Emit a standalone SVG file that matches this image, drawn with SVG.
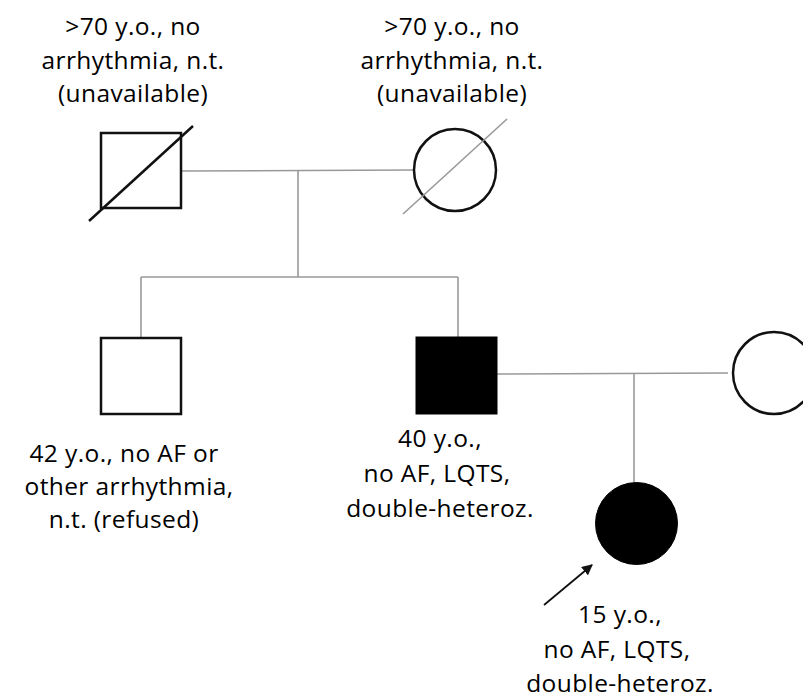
<svg xmlns="http://www.w3.org/2000/svg" width="803" height="698" viewBox="0 0 803 698">
<style>
.sym{fill:#fff;stroke:#111;stroke-width:2.5}
.aff{fill:#000;stroke:#000;stroke-width:1}
.con{fill:none;stroke:#999;stroke-width:1.6}
.lbl{font-family:"Open Sans",Lato,sans-serif;font-size:24.5px;letter-spacing:0.4px;fill:#000;text-anchor:middle}
</style>
<defs>
<marker id="ah" viewBox="0 0 10 10" refX="9" refY="5" markerWidth="6" markerHeight="6" orient="auto">
<path d="M0,0 L10,5 L0,10 z" fill="#111"/>
</marker>
</defs>
<rect width="803" height="698" fill="#fff"/>
<g id="connectors">
<line class="con" x1="181" y1="171" x2="414" y2="170"/>
<line class="con" x1="298" y1="170" x2="298" y2="277"/>
<line class="con" x1="141" y1="277" x2="458" y2="277"/>
<line class="con" x1="141" y1="277" x2="141" y2="338"/>
<line class="con" x1="458" y1="277" x2="458" y2="337"/>
<line class="con" x1="497" y1="374" x2="728" y2="373"/>
<line class="con" x1="634" y1="373" x2="634" y2="482"/>
<line x1="544" y1="605" x2="592" y2="565" stroke="#111" stroke-width="1.8" marker-end="url(#ah)"/>
</g>
<g id="grandfather">
<rect class="sym" x="101" y="133" width="80" height="75"/>
<line x1="89" y1="221" x2="193" y2="126" stroke="#111" stroke-width="2.5"/>
<text class="lbl" x="133" y="35">&gt;70 y.o., no</text>
<text class="lbl" x="133" y="69">arrhythmia, n.t.</text>
<text class="lbl" x="133" y="102">(unavailable)</text>
</g>
<g id="grandmother">
<circle class="sym" cx="455" cy="170" r="41"/>
<line x1="403" y1="214" x2="507" y2="119" stroke="#999" stroke-width="1.6"/>
<text class="lbl" x="452" y="35">&gt;70 y.o., no</text>
<text class="lbl" x="452" y="69">arrhythmia, n.t.</text>
<text class="lbl" x="452" y="102">(unavailable)</text>
</g>
<g id="uncle">
<rect class="sym" x="101" y="338" width="80" height="76"/>
<text class="lbl" x="124" y="462">42 y.o., no AF or</text>
<text class="lbl" x="129" y="495">other arrhythmia,</text>
<text class="lbl" x="124" y="528">n.t. (refused)</text>
</g>
<g id="father">
<rect class="aff" x="416" y="337" width="81" height="77"/>
<text class="lbl" x="440" y="447">40 y.o.,</text>
<text class="lbl" x="437" y="482">no AF, LQTS,</text>
<text class="lbl" x="440" y="517">double-heteroz.</text>
</g>
<g id="mother">
<circle class="sym" cx="774" cy="373" r="41"/>
</g>
<g id="proband">
<circle class="aff" cx="636.5" cy="523.5" r="41"/>
<text class="lbl" x="620" y="623">15 y.o.,</text>
<text class="lbl" x="617" y="658">no AF, LQTS,</text>
<text class="lbl" x="620" y="692">double-heteroz.</text>
</g>
</svg>
